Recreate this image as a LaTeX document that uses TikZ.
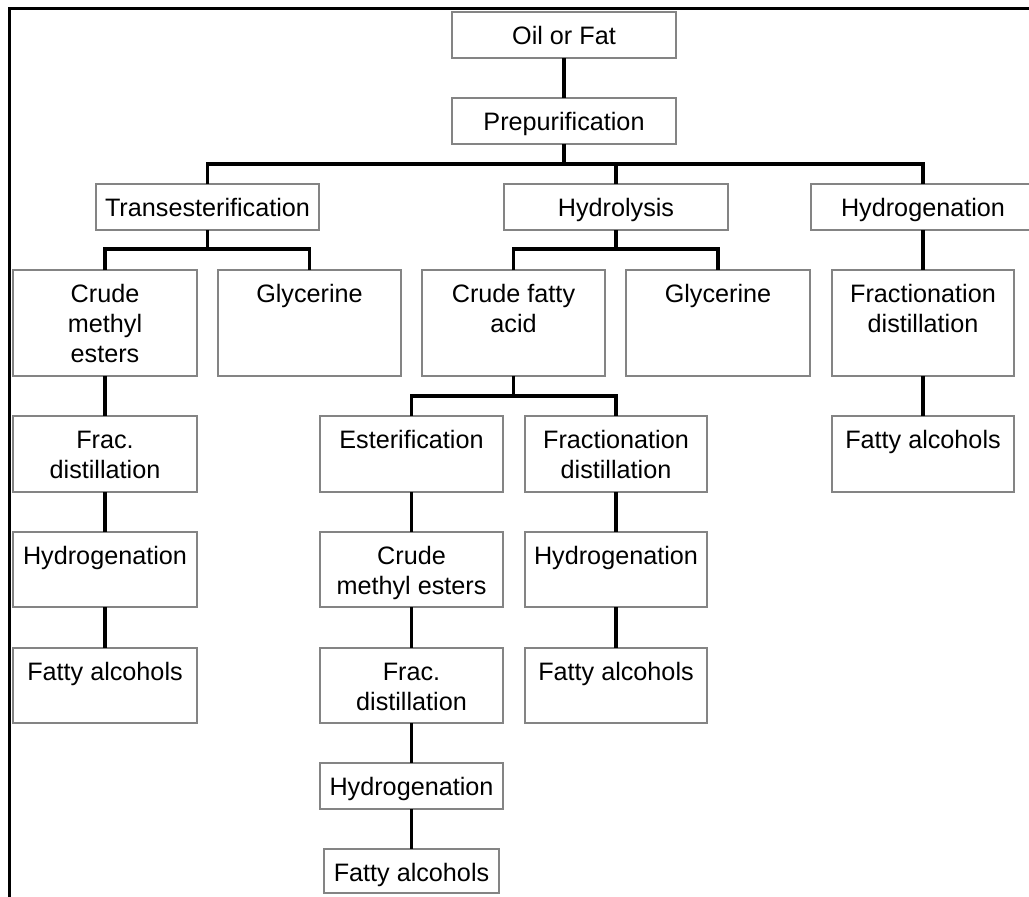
\documentclass[tikz,border=0pt]{standalone}
\usepackage{fontspec}
\setmainfont{Liberation Sans}
\usetikzlibrary{fit}
\definecolor{boxgray}{RGB}{132,132,132}
\tikzset{
 boxst/.style={draw=boxgray, fill=white, line width=0.9pt, rectangle, inner sep=0pt, outer sep=0pt},
 txt/.style={align=center, inner sep=0pt, font=\fontsize{12.6}{15}\selectfont},
 conn/.style={line width=1.7pt, draw=black},
 framest/.style={line width=1.5pt, draw=black}
}
\newcommand\bx[6]{%
 \node[boxst, fit={(#2,#3) (#4,#5)}] (#1) {};
 \node[txt, anchor=north] (#1-t) at ([yshift=-5.5pt]#1.north) {\strut #6};}
\begin{document}
\begin{tikzpicture}[x=0.5pt, y=-0.5pt]
\clip (0,0) rectangle (1029,896);
\fill[white] (0,0) rectangle (1029,896);
% frame
\draw[framest] (9,910) -- (9,8) -- (1040,8);
% coordinates for buses
\coordinate (bA) at (0,164);
\coordinate (bB) at (0,249);
\coordinate (bC) at (0,396);
% boxes
\bx{oil}{452}{12}{676}{58}{Oil or Fat}
\bx{pre}{452}{98}{676}{144}{Prepurification}
\bx{trans}{96}{184}{319}{230}{Transesterification}
\bx{hydl}{504}{184}{728}{230}{Hydrolysis}
\bx{hydg}{811}{184}{1035}{230}{Hydrogenation}
\bx{cme1}{13}{270}{197}{376}{Crude\\methyl\\esters}
\bx{gly1}{218}{270}{401}{376}{Glycerine}
\bx{cfa}{422}{270}{605}{376}{Crude fatty\\acid}
\bx{gly2}{626}{270}{810}{376}{Glycerine}
\bx{fd1}{832}{270}{1014}{376}{Fractionation\\distillation}
\bx{frac1}{13}{416}{197}{492}{Frac.\\distillation}
\bx{ester}{320}{416}{503}{492}{Esterification}
\bx{fd2}{525}{416}{707}{492}{Fractionation\\distillation}
\bx{fa4}{832}{416}{1014}{492}{Fatty alcohols}
\bx{hyd5a}{13}{532}{197}{607}{Hydrogenation}
\bx{cme2}{320}{532}{503}{607}{Crude\\methyl esters}
\bx{hyd5b}{525}{532}{707}{607}{Hydrogenation}
\bx{fa6a}{13}{648}{197}{723}{Fatty alcohols}
\bx{frac2}{320}{648}{503}{723}{Frac.\\distillation}
\bx{fa6b}{525}{648}{707}{723}{Fatty alcohols}
\bx{hyd7}{320}{763}{503}{809}{Hydrogenation}
\bx{fa8}{324}{849}{499}{893}{Fatty alcohols}
% connectors
\draw[conn] (oil.south) -- (pre.north);
\draw[conn] (pre.south) -- (pre.south |- bA);
\draw[conn] (trans.north) -- (trans.north |- bA) -- (hydg.north |- bA) -- (hydg.north);
\draw[conn] (hydl.north) -- (hydl.north |- bA);
\draw[conn] (trans.south) -- (trans.south |- bB);
\draw[conn] (cme1.north) -- (cme1.north |- bB) -- (gly1.north |- bB) -- (gly1.north);
\draw[conn] (hydl.south) -- (hydl.south |- bB);
\draw[conn] (cfa.north) -- (cfa.north |- bB) -- (gly2.north |- bB) -- (gly2.north);
\draw[conn] (hydg.south) -- (fd1.north);
\draw[conn] (cfa.south) -- (cfa.south |- bC);
\draw[conn] (ester.north) -- (ester.north |- bC) -- (fd2.north |- bC) -- (fd2.north);
\draw[conn] (fd1.south) -- (fa4.north);
\draw[conn] (cme1.south) -- (frac1.north);
\draw[conn] (frac1.south) -- (hyd5a.north);
\draw[conn] (hyd5a.south) -- (fa6a.north);
\draw[conn] (ester.south) -- (cme2.north);
\draw[conn] (cme2.south) -- (frac2.north);
\draw[conn] (frac2.south) -- (hyd7.north);
\draw[conn] (hyd7.south) -- (hyd7.south |- fa8.north);
\draw[conn] (fd2.south) -- (hyd5b.north);
\draw[conn] (hyd5b.south) -- (fa6b.north);
\end{tikzpicture}
\end{document}
